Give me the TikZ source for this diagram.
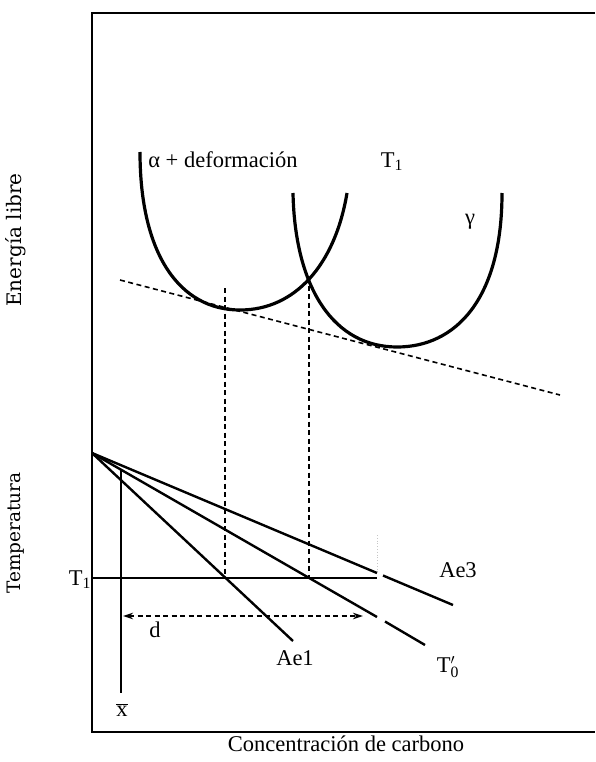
\documentclass[tikz,border=0pt]{standalone}
\usepackage{fontspec}
\newfontfamily\tnr{Liberation Serif}
\newfontfamily\axfont{DejaVu Serif}
\setmathrm{Liberation Serif}
\usetikzlibrary{arrows.meta}
\begin{document}
\begin{tikzpicture}[x=1pt,y=-1pt,
  lab/.style={inner sep=0pt, font=\tnr\fontsize{22.5}{26}\selectfont},
  axlab/.style={inner sep=0pt, rotate=90},
  axisline/.style={line width=1.8pt},
  curve/.style={line width=3.2pt},
  tline/.style={line width=2.4pt},
  dsh/.style={line width=1.6pt, dash pattern=on 5pt off 3.5pt}
]
\useasboundingbox (0,0) rectangle (595,762);
% frame
\coordinate (tr) at (595,13);
\coordinate (tl) at (92,13);
\coordinate (bl) at (92,732);
\coordinate (br) at (595,732);
\draw[axisline] (tr) -- (tl) -- (bl) -- (br);
% free-energy curves
\coordinate (a0) at (140,152);
\coordinate (am) at (240,310);
\coordinate (a1) at (347,193);
\draw[curve] (a0) .. controls (140,255) and (180,310) .. (am)
                  .. controls (295,310) and (335,265) .. (a1);
\coordinate (g0) at (293,193);
\coordinate (gm) at (397,347);
\coordinate (g1) at (502,193);
\draw[curve] (g0) .. controls (295,290) and (335,347) .. (gm)
                  .. controls (455,347) and (502,300) .. (g1);
% common tangent
\coordinate (c0) at (120,280);
\coordinate (c1) at (560,395);
\draw[dsh] (c0) -- (c1);
% vertical projections
\coordinate (v1t) at (225,288);
\coordinate (v1b) at (225,578);
\coordinate (v2t) at (309,277);
\coordinate (v2b) at (309,578);
\draw[dsh] (v1t) -- (v1b);
\draw[dsh] (v2t) -- (v2b);
% faint mark at end of T1 line
\coordinate (f0) at (377,535);
\coordinate (f1) at (377,573);
\draw[gray!45, line width=0.8pt, dotted] (f0) -- (f1);
% T1 line
\coordinate (t1a) at (92,578);
\coordinate (t1b) at (377,578);
\draw[line width=1.1pt] (t1a) -- (t1b);
% temperature lines
\coordinate (O) at (92,453);
\coordinate (ae3a) at (377,573);
\coordinate (ae3b) at (383,575.5);
\coordinate (ae3c) at (453,605);
\draw[tline] (O) -- (ae3a);
\draw[tline] (ae3b) -- (ae3c);
\coordinate (t0a) at (377,617);
\coordinate (t0b) at (385,621.5);
\coordinate (t0c) at (425,645);
\draw[tline] (O) -- (t0a);
\draw[tline] (t0b) -- (t0c);
\coordinate (ae1c) at (293,641);
\draw[tline] (O) -- (ae1c);
% composition line
\coordinate (xt) at (121,470);
\coordinate (xb) at (121,693);
\draw[line width=2.4pt] (xt) -- (xb);
% distance arrow
\coordinate (d0) at (123,616);
\coordinate (d1) at (363,616);
\draw[dsh, {Stealth[length=10pt,width=6.5pt]}-{Stealth[length=10pt,width=6.5pt]}] (d0) -- (d1);
% labels
\node[lab] (lalpha) at (223,160) {α + deformación};
\node[lab] (ltop) at (392,162) {T\textsubscript{1}};
\node[lab] (lgamma) at (470,222) {γ};
\node[lab] (lae3) at (458,570) {Ae3};
\node[lab] (lae1) at (295,658) {Ae1};
\node[lab] (lt0) at (448,667) {$\mathrm{T}'_{\mathrm{0}}$};
\node[lab] (ld) at (155,630) {d};
\node[lab] (lx) at (122,710) {$\overline{\hbox{x}}$};
\node[lab] (lt1) at (80,580) {T\textsubscript{1}};
\node[lab] (lcap) at (346,744) {Concentración de carbono};
\node[axlab, font=\axfont\fontsize{20}{24}\selectfont] (lener) at (16,240) {Energía libre};
\node[axlab, font=\axfont\fontsize{18.5}{22}\selectfont] (ltemp) at (16,533) {Temperatura};
\end{tikzpicture}
\end{document}
